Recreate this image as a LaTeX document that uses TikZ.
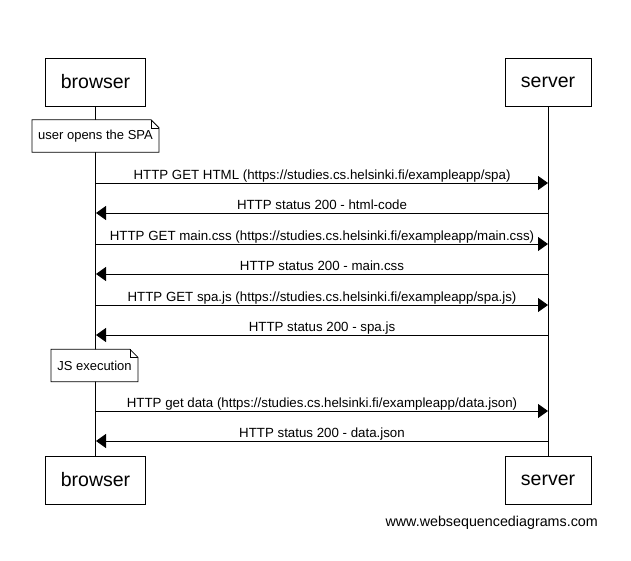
\documentclass[tikz,border=0pt]{standalone}
\usepackage{fontspec}
\setmainfont{Liberation Sans}
\usetikzlibrary{arrows.meta}
\begin{document}
\begin{tikzpicture}[x=1pt,y=-1pt,
  actor/.style={draw=black, line width=1pt, fill=white, minimum height=48pt, inner sep=0pt, font=\fontsize{19.5}{22}\selectfont},
  lifeline/.style={draw=black, line width=1pt},
  notebox/.style={minimum height=32pt, inner xsep=6pt, inner ysep=0pt, font=\fontsize{13}{15}\selectfont},
  noteline/.style={draw=black, line width=0.8pt, fill=white},
  msg/.style={draw=black, line width=1pt, -{Triangle[length=10pt,width=14pt]}},
  lbl/.style={anchor=base, yshift=3.5pt, inner sep=0pt, font=\fontsize{13.3}{15}\selectfont},
  wm/.style={font=\fontsize{14.3}{16}\selectfont, inner sep=0pt}
]
\useasboundingbox (0,0) rectangle (631,560);
\fill[white] (0,0) rectangle (631,560);

% actors
\node[actor, minimum width=100pt] (bt) at (95.5,82) {browser};
\node[actor, minimum width=86pt] (st) at (548,82) {server};
\node[actor, minimum width=100pt] (bb) at (95.5,480) {browser};
\node[actor, minimum width=86pt] (sb) at (548,480) {server};

% lifelines
\draw[lifeline] (bt.south) -- (bb.north);
\draw[lifeline] (st.south) -- (sb.north);

% note 1
\node[notebox] (n1) at (95.5,136) {\phantom{user opens the SPA}};
\path[noteline] (n1.north west) -- ([xshift=-8pt]n1.north east) -- ([yshift=-8pt]n1.north east) -- (n1.south east) -- (n1.south west) -- cycle;
\draw[line width=0.5pt] ([xshift=-8pt]n1.north east) -- ([xshift=-8pt,yshift=-8pt]n1.north east) -- ([yshift=-8pt]n1.north east);
\node[notebox] (n1t) at (n1.center) {user opens the SPA};

% messages
\coordinate (b1) at (96,183); \coordinate (s1) at (548,183);
\coordinate (b2) at (96,213); \coordinate (s2) at (548,213);
\coordinate (b3) at (96,244); \coordinate (s3) at (548,244);
\coordinate (b4) at (96,274); \coordinate (s4) at (548,274);
\coordinate (b5) at (96,305); \coordinate (s5) at (548,305);
\coordinate (b6) at (96,335); \coordinate (s6) at (548,335);
\coordinate (b7) at (96,411); \coordinate (s7) at (548,411);
\coordinate (b8) at (96,441); \coordinate (s8) at (548,441);

\draw[msg] (b1) -- node[lbl] {HTTP GET HTML (https://studies.cs.helsinki.fi/exampleapp/spa)} (s1);
\draw[msg] (s2) -- node[lbl] {HTTP status 200 - html-code} (b2);
\draw[msg] (b3) -- node[lbl] {HTTP GET main.css (https://studies.cs.helsinki.fi/exampleapp/main.css)} (s3);
\draw[msg] (s4) -- node[lbl] {HTTP status 200 - main.css} (b4);
\draw[msg] (b5) -- node[lbl] {HTTP GET spa.js (https://studies.cs.helsinki.fi/exampleapp/spa.js)} (s5);
\draw[msg] (s6) -- node[lbl] {HTTP status 200 - spa.js} (b6);

% note 2
\node[notebox] (n2) at (94.5,365.5) {\phantom{JS execution}};
\path[noteline] (n2.north west) -- ([xshift=-8pt]n2.north east) -- ([yshift=-8pt]n2.north east) -- (n2.south east) -- (n2.south west) -- cycle;
\draw[line width=0.5pt] ([xshift=-8pt]n2.north east) -- ([xshift=-8pt,yshift=-8pt]n2.north east) -- ([yshift=-8pt]n2.north east);
\node[notebox] (n2t) at (n2.center) {JS execution};

\draw[msg] (b7) -- node[lbl] {HTTP get data (https://studies.cs.helsinki.fi/exampleapp/data.json)} (s7);
\draw[msg] (s8) -- node[lbl] {HTTP status 200 - data.json} (b8);

% watermark
\node[wm, anchor=east] (wmk) at (598,523) {www.websequencediagrams.com};
\end{tikzpicture}
\end{document}
